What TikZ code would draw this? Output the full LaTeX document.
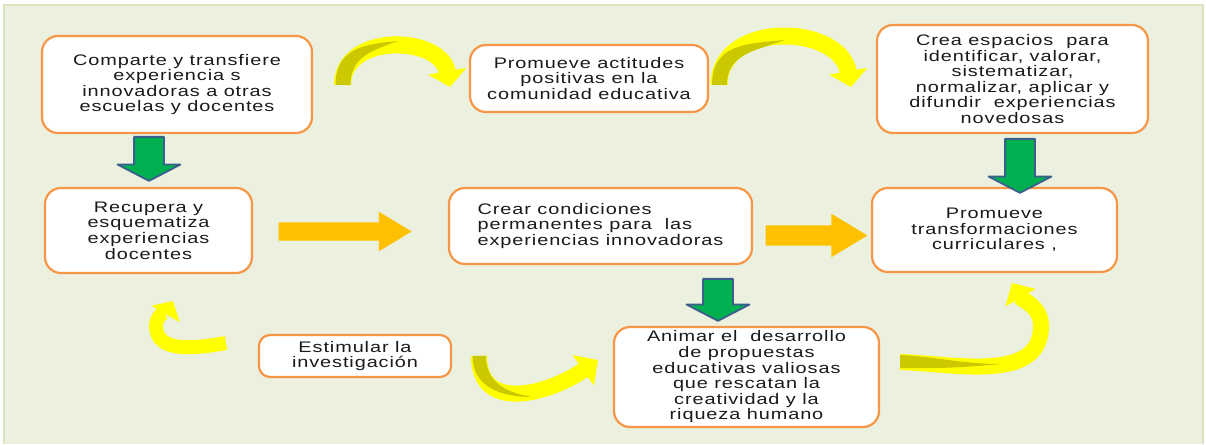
\documentclass[tikz,border=0pt]{standalone}
\usepackage{fontspec}
\newfontfamily\boxfont{Liberation Sans}[FakeStretch=1.3,LetterSpace=6]
\usetikzlibrary{shapes.arrows,arrows.meta}
\definecolor{bgfill}{HTML}{EBF1DE}
\definecolor{bgline}{HTML}{D7E4BD}
\definecolor{boxorange}{HTML}{F79646}
\definecolor{arrowgreen}{HTML}{00B050}
\definecolor{arrowblue}{HTML}{3B5E8C}
\definecolor{arroworange}{HTML}{FFC000}
\definecolor{bandyellow}{HTML}{FFFF00}
\definecolor{bandolive}{HTML}{CCC800}
\definecolor{txt}{HTML}{1A1A1A}
\tikzset{
  box/.style={draw=boxorange, line width=2.2pt, fill=white, rounded corners=16pt,
    align=center, text=txt, inner sep=0pt, font=\boxfont\fontsize{15.3}{15.6}\selectfont},
  downarrow/.style={single arrow, draw=arrowblue, line width=1.8pt, fill=arrowgreen,
    rotate=-90, inner xsep=0pt, inner ysep=14pt, single arrow head extend=16.5pt,
    single arrow tip angle=125, minimum height=#1},
  rightarrow/.style={single arrow, fill=arroworange, inner xsep=0pt,
    single arrow tip angle=62, minimum height=#1},
  band/.style={draw=bandyellow, line width=#1, line cap=butt,
    -{Triangle[length=16pt,width=38pt]}},
}
\begin{document}
\begin{tikzpicture}[x=1pt, y=1pt, line join=round]
  \useasboundingbox (0,0) rectangle (1206,444);
  % fondo
  \fill[bgfill] (4,0) rectangle (1203,439);
  \draw[bgline, line width=2pt] (4,0) -- (4,439) -- (1203,439) -- (1203,0);

  % cajas
  \node[box, minimum width=270pt, minimum height=97pt] (comparte) at (177,359.5)
    {Comparte y transfiere\\ experiencia s\\ innovadoras a otras\\ escuelas y docentes};
  \node[box, minimum width=238pt, minimum height=67pt] (actitudes) at (589,365.5)
    {Promueve actitudes\\ positivas en la\\ comunidad educativa};
  \node[box, minimum width=271pt, minimum height=108pt] (espacios) at (1012.5,365)
    {Crea espacios\ \ para\\ identificar, valorar,\\ sistematizar,\\ normalizar, aplicar y\\ difundir\ \ experiencias\\ novedosas};
  \node[box, minimum width=207pt, minimum height=85pt] (recupera) at (148.5,213.5)
    {Recupera y\\ esquematiza\\ experiencias\\ docentes};
  \node[box, align=left, minimum width=303pt, minimum height=76pt] (condiciones) at (600.5,218)
    {Crear condiciones\\ permanentes para\ \ las\\ experiencias innovadoras};
  \node[box, minimum width=245pt, minimum height=84pt] (curriculo) at (994.5,214)
    {Promueve\\ transformaciones\\ curriculares ,};
  \node[box, rounded corners=11pt, minimum width=192pt, minimum height=42pt] (estimular) at (355,88)
    {Estimular la\\ investigación};
  \node[box, minimum width=265pt, minimum height=100pt] (animar) at (746.5,67)
    {Animar el\ \ desarrollo\\ de propuestas\\ educativas valiosas\\ que rescatan la\\ creatividad y la\\ riqueza humano};

  % flechas verdes
  \node[downarrow=44pt] (baja1) at (149,289) {};
  \node[downarrow=54pt] (baja2) at (1020,282) {};
  \node[downarrow=42pt] (baja3) at (718,148) {};

  % flechas naranjas
  \node[rightarrow=133pt, inner ysep=9pt, single arrow head extend=10.5pt] (va1) at (337.5,212.5) {};
  \node[rightarrow=102pt, inner ysep=10pt, single arrow head extend=11.5pt] (va2) at (808,208.5) {};

  % flechas curvas amarillas
  \coordinate (c1a) at (342.5,359); \coordinate (c1b) at (450,357);
  \coordinate (c2a) at (719,359);   \coordinate (c2b) at (851,357);
  \coordinate (c3a) at (226,101);   \coordinate (c3m) at (156,118); \coordinate (c3b) at (173,143);
  \coordinate (c4a) at (479,88);    \coordinate (c4b) at (598,84);
  \coordinate (c5a) at (900,82);    \coordinate (c5m) at (1041,118); \coordinate (c5b) at (1012,161);

  \draw[band=17pt] (c1a) to[out=90,in=100,looseness=1.25] (c1b);
  \fill[bandolive] (335.5,359) to[out=90,in=185,looseness=1.2] (398,403) to[out=200,in=90,looseness=1.1] (350.5,359) -- cycle;
  \draw[band=17pt] (c2a) to[out=90,in=100,looseness=1.25] (c2b);
  \fill[bandolive] (712,359) to[out=90,in=185,looseness=1.2] (785,404) to[out=200,in=90,looseness=1.1] (727,359) -- cycle;

  \draw[band=14pt, -{Triangle[length=15pt,width=32pt]}] (c3a) to[out=190,in=-90] (c3m) to[out=90,in=240] (c3b);

  \draw[band=16pt, -{Triangle[length=18pt,width=36pt]}] (c4a) to[out=-90,in=215,looseness=1.25] (c4b);
  \fill[bandolive] (472.5,88) to[out=-90,in=180,looseness=1.1] (532,47) to[out=170,in=-90,looseness=1.1] (486,88) -- cycle;

  \draw[band=16pt, -{Triangle[length=17pt,width=34pt]}] (c5a) to[out=-2,in=-90] (c5m) to[out=90,in=-60] (c5b);
  \fill[bandolive] (900,89) to[out=-3,in=180] (1002,80) to[out=185,in=-1] (900,76) -- cycle;
\end{tikzpicture}
\end{document}
